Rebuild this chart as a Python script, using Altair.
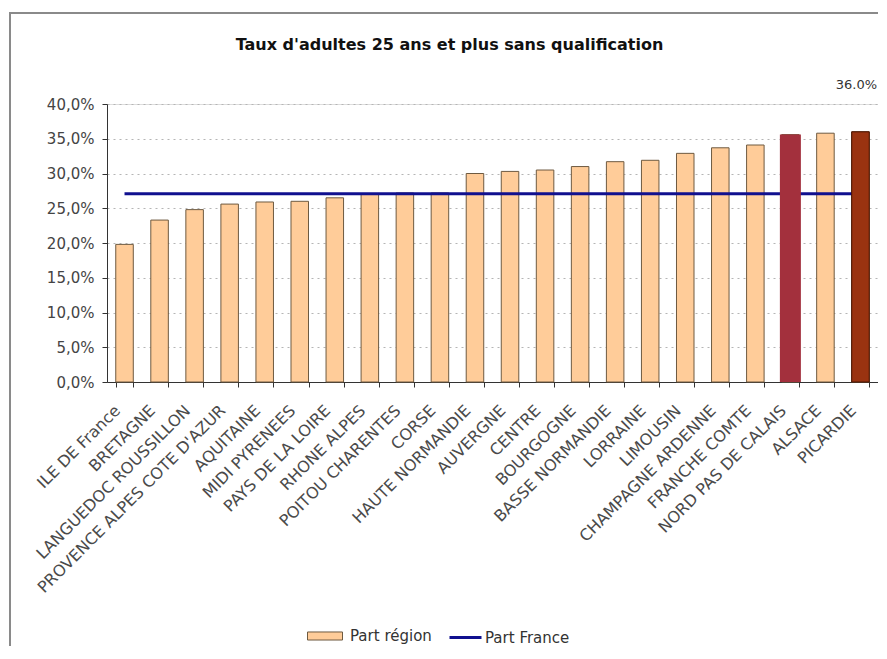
import altair as alt
import pandas as pd

# ---- data ----
regions = [
    "ILE DE France", "BRETAGNE", "LANGUEDOC ROUSSILLON", "PROVENCE ALPES COTE D'AZUR",
    "AQUITAINE", "MIDI PYRENEES", "PAYS DE LA LOIRE", "RHONE ALPES", "POITOU CHARENTES",
    "CORSE", "HAUTE NORMANDIE", "AUVERGNE", "CENTRE", "BOURGOGNE", "BASSE NORMANDIE",
    "LORRAINE", "LIMOUSIN", "CHAMPAGNE ARDENNE", "FRANCHE COMTE", "NORD PAS DE CALAIS",
    "ALSACE", "PICARDIE",
]
part_region = [19.8, 23.3, 24.8, 25.6, 25.9, 26.0, 26.5, 27.1, 27.2, 27.2, 30.0,
               30.3, 30.5, 31.0, 31.7, 31.9, 32.9, 33.7, 34.1, 35.6, 35.8, 36.0]
part_france = 27.1
highlight_regions = ["NORD PAS DE CALAIS", "PICARDIE"]
highlight_colors = ["#A3303D", "#9A3310"]
labelled_region = "PICARDIE"
y_ticks = [0, 5, 10, 15, 20, 25, 30, 35, 40]

title_text = "Taux d'adultes 25 ans et plus sans qualification"
serie_region = "Part région"
serie_france = "Part France"

df = pd.DataFrame({
    "region": regions,
    "val": [v / 100 for v in part_region],
    "france": [part_france / 100] * len(regions),
    "serie": [serie_region] * len(regions),
    "serie_fr": [serie_france] * len(regions),
    "label": [f"{v:.1f}%" for v in part_region],
})
hl = pd.DataFrame({"region": highlight_regions, "col": highlight_colors})
df = df.merge(hl, on="region", how="left")

FONT = "DejaVu Sans"

x_axis = alt.Axis(labelAngle=-45, labelFont=FONT, labelFontSize=16, labelColor="#4a4a4a",
                  labelLimit=400, labelOverlap=False, tickBand="extent", tickSize=5,
                  tickColor="#333", domainColor="#333", labelPadding=15, labelOffset=-13,
                  grid=False, title=None)
x_scale = alt.Scale(paddingInner=0.5, paddingOuter=0.25)
y_axis = alt.Axis(values=[t / 100 for t in y_ticks],
                  labelExpr="replace(format(datum.value * 100, '.1f'), '.', ',') + '%'",
                  labelFont=FONT, labelFontSize=15, labelColor="#444", labelPadding=8,
                  labelOverlap=False, tickSize=5, tickColor="#333", domainColor="#333",
                  grid=True, gridColor="#b5b5b5", gridDash=[2, 4], gridWidth=1, title=None)
y_scale = alt.Scale(domain=[0, 0.4], nice=False)


def xe():
    return alt.X("region:N", sort=regions, scale=x_scale, axis=x_axis, title=None)


def ye(field):
    return alt.Y(f"{field}:Q", scale=y_scale, axis=y_axis, title=None)


base = alt.Chart(df)

bars = base.mark_bar(stroke="#6e5a40", strokeWidth=1).encode(
    x=xe(),
    y=ye("val"),
    fill=alt.Fill("serie:N", scale=alt.Scale(domain=[serie_region], range=["#FFCC99"]),
                  legend=alt.Legend(title=None, orient="none", legendX=200, legendY=514,
                                    symbolType="M-1,-0.23H1V0.23H-1Z", symbolSize=1225,
                                    symbolStrokeColor="#6e5a40", symbolStrokeWidth=1,
                                    labelFont=FONT, labelFontSize=15, labelColor="#333",
                                    labelOffset=7)),
)

line = base.mark_line(strokeWidth=3).encode(
    x=xe(),
    y=ye("france"),
    stroke=alt.Stroke("serie_fr:N", scale=alt.Scale(domain=[serie_france], range=["#10108F"]),
                      legend=alt.Legend(title=None, orient="none", legendX=341, legendY=516,
                                        symbolType="stroke", symbolSize=1024,
                                        symbolStrokeWidth=3,
                                        labelFont=FONT, labelFontSize=15, labelColor="#333",
                                        labelOffset=2)),
)

nord = base.transform_filter(alt.datum.region == highlight_regions[0]).mark_bar(
    width=21, strokeWidth=0).encode(
    x=xe(),
    y=ye("val"),
    fill=alt.Fill("col:N", scale=None, legend=None),
)
pic = base.transform_filter(alt.datum.region == highlight_regions[1]).mark_bar(
    stroke="#4a1500", strokeWidth=1).encode(
    x=xe(),
    y=ye("val"),
    fill=alt.Fill("col:N", scale=None, legend=None),
)

label = base.transform_filter(alt.datum.region == labelled_region).mark_text(
    font=FONT, fontSize=13, color="#333", dy=-47, dx=-4, baseline="middle").encode(
    x=xe(),
    y=ye("val"),
    text="label:N",
)

frame = alt.Chart(alt.Data(values=[{}])).mark_rect(
    filled=False, stroke="#8a8a8a", strokeWidth=2).encode(
    x=alt.value(-97), x2=alt.value(900), y=alt.value(-91), y2=alt.value(700))

chart = alt.layer(frame, bars, line, nord, pic, label).resolve_scale(
    fill="independent"
).properties(
    width=771, height=278,
    autosize=alt.AutoSizeParams(type="none"),
    padding={"left": 99, "top": 96, "right": 0, "bottom": 264},
    title=alt.TitleParams(title_text, font=FONT, fontSize=16, fontWeight="bold",
                          color="#111", anchor="middle", dx=-43, offset=-41),
).configure_view(stroke=None).configure(background="white")

chart.save("out.html", embed_options={"renderer": "svg", "actions": False})
